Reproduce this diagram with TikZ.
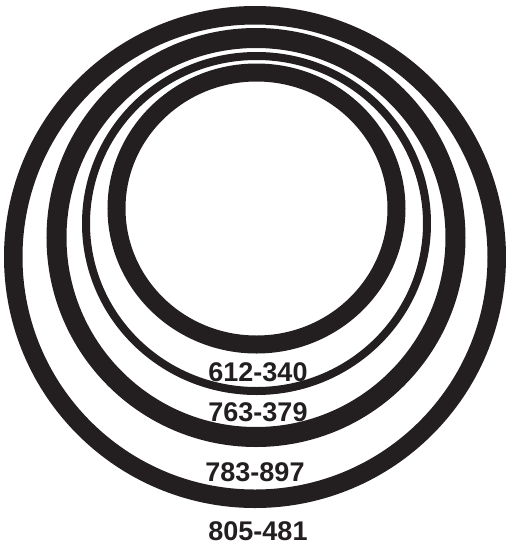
\documentclass[tikz,border=0pt]{standalone}
\usepackage{fontspec}
\setmainfont{Liberation Sans}
\usepackage{xcolor}
\usepackage{tikz}
\definecolor{ink}{HTML}{231F20}

\begin{document}
\begin{tikzpicture}[
    x=1pt, y=-1pt,
    font=\fontsize{27}{31}\selectfont\bfseries,
    every node/.style={align=center, text=ink, inner sep=0pt},
    ring/.style={draw=ink},
    heavy/.style={ring, line width=18.5pt},
    thin/.style={ring, line width=8pt},
    partno/.style={anchor=center}
]
\useasboundingbox (0,0) rectangle (506,550);

% --- Ring centres ---
\coordinate (c805) at (255,257);
\coordinate (c783) at (256,237.5);
\coordinate (c763) at (256.5,223.5);
\coordinate (c612) at (256.5,208.5);

% --- Rings, outside in ---
\draw[heavy] (c805) circle[radius=241.75];
\draw[heavy, line width=20pt] (c783) circle[radius=199.5];
\draw[thin] (c763) ellipse[x radius=170.5, y radius=167.5];
\draw[heavy, line width=18pt] (c612) ellipse[x radius=140, y radius=136];

% --- Part numbers ---
\node[partno] (l612) at (258,372) {612-340};
\node[partno] (l763) at (258,412) {763-379};
\node[partno] (l783) at (255,472) {783-897};
\node[partno] (l805) at (258,531) {805-481};

\end{tikzpicture}
\end{document}
